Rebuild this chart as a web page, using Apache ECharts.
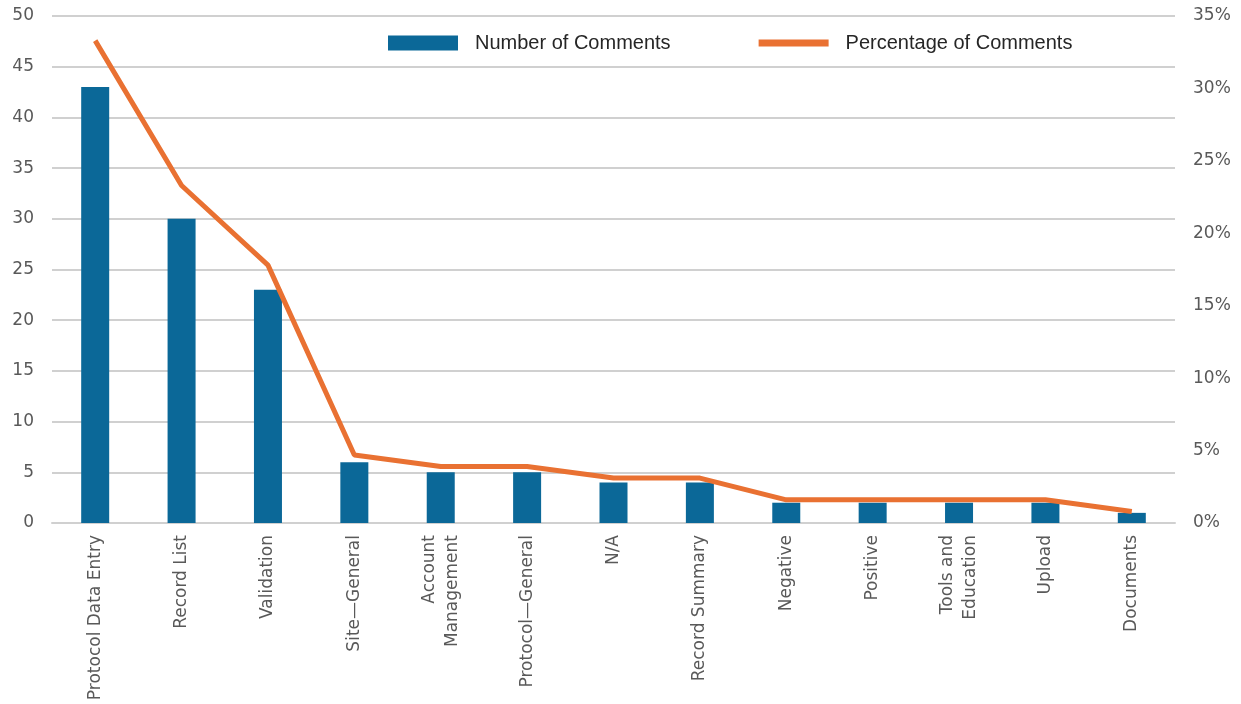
<!DOCTYPE html>
<html>
<head>
<meta charset="utf-8">
<script src="https://cdn.jsdelivr.net/npm/echarts@6/dist/echarts.min.js"></script>
<style>html,body{margin:0;padding:0;background:#fff}#c{width:1241px;height:704px}</style>
</head>
<body>
<div id="c"></div>
<script>
const categories = ['Protocol Data Entry','Record List','Validation','Site\u2014General','Account\nManagement','Protocol\u2014General','N/A','Record Summary','Negative','Positive','Tools and\nEducation','Upload','Documents'];
const commentCounts = [43, 30, 23, 6, 5, 5, 4, 4, 2, 2, 2, 2, 1];
const commentPercents = [33.3, 23.3, 17.8, 4.7, 3.9, 3.9, 3.1, 3.1, 1.6, 1.6, 1.6, 1.6, 0.8];
const seriesNames = ['Number of Comments', 'Percentage of Comments'];

const chart = echarts.init(document.getElementById('c'), null, {renderer: 'canvas'});
const font = "'DejaVu Sans', sans-serif";
chart.setOption({
  animation: false,
  backgroundColor: '#fff',
  textStyle: {fontFamily: font},
  legend: {
    left: 383, top: 28,
    itemWidth: 70, itemHeight: 15, itemGap: 88,
    textStyle: {fontFamily: "'Liberation Sans', Arial, sans-serif", fontSize: 20, color: '#262626', padding: [0,0,0,12]},
    data: [
      {name: seriesNames[0], icon: 'rect'},
      {name: seriesNames[1], icon: 'path://M0,0 L70,0 L70,7 L0,7 Z', itemStyle: {color: '#E97132'}}
    ]
  },
  grid: {left: 52, right: 66, top: 16, bottom: 181},
  xAxis: {
    type: 'category', data: categories,
    axisLine: {show: true, lineStyle: {color: '#d0d0d0', width: 2}},
    axisTick: {show: false},
    axisLabel: {rotate: 90, interval: 0, margin: 12, color: '#595959', fontSize: 17, fontFamily: font, lineHeight: 23}
  },
  yAxis: [{
    type: 'value', min: 0, max: 50, interval: 5,
    axisLine: {show: false}, axisTick: {show: false},
    axisLabel: {color: '#595959', fontSize: 17, fontFamily: font, margin: 18},
    splitLine: {lineStyle: {color: '#d0d0d0', width: 2}}
  }, {
    type: 'value', min: 0, max: 35, interval: 5, position: 'right',
    axisLine: {show: false}, axisTick: {show: false},
    axisLabel: {color: '#595959', fontSize: 17, fontFamily: font, margin: 18, formatter: '{value}%'},
    splitLine: {show: false}
  }],
  series: [{
    name: seriesNames[0], type: 'bar', data: commentCounts, barWidth: 28,
    itemStyle: {color: '#0B6898'}
  }, {
    name: seriesNames[1], type: 'line', yAxisIndex: 1, data: commentPercents,
    symbol: 'none', lineStyle: {color: '#E97132', width: 5}, itemStyle: {color: '#E97132'}
  }]
});
</script>
</body>
</html>
